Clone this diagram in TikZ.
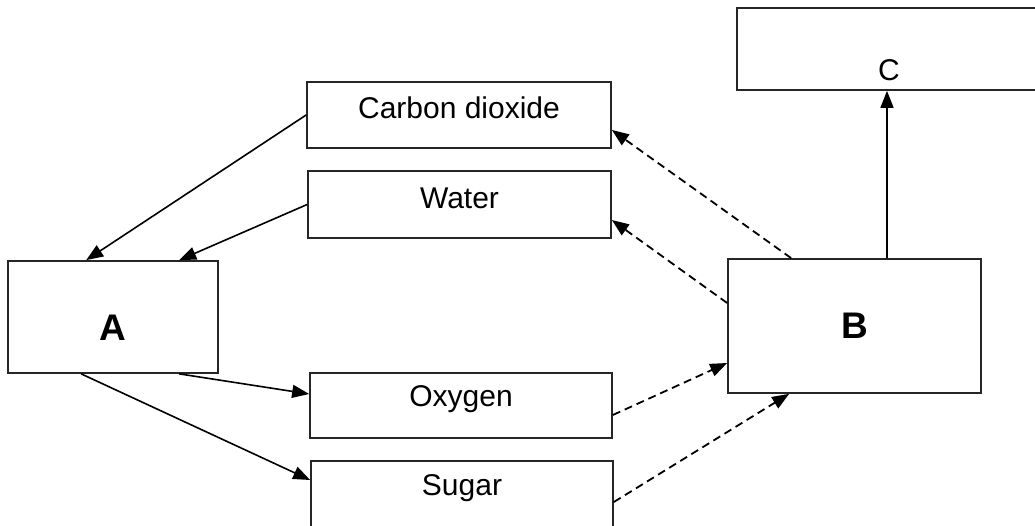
\documentclass[tikz,border=0pt]{standalone}
\usepackage{fontspec}
\setmainfont{Liberation Sans}
\usetikzlibrary{arrows.meta}
\begin{document}
\begin{tikzpicture}[x=1pt,y=-1pt,
  box/.style={draw=black!85, line width=1.7pt, rectangle, inner sep=0pt, fill=white},
  lbl/.style={font=\fontsize{30}{34}\selectfont},
  big/.style={font=\fontsize{37}{40}\selectfont\bfseries},
  conn/.style={line width=1.6pt, -{Triangle[length=17pt,width=13pt]}},
  dconn/.style={line width=1.8pt, dash pattern=on 8pt off 5pt, -{Triangle[length=17pt,width=13pt]}}]
\clip (0,0) rectangle (1035,526);
\useasboundingbox (0,0) rectangle (1035,526);
\fill[white] (0,0) rectangle (1035,526);

\node[box, minimum width=210pt, minimum height=112pt,
  label={[big, yshift=-11pt]center:A}] (a) at (113,317) {};
\node[box, minimum width=304pt, minimum height=66pt,
  label={[lbl, yshift=7pt]center:Carbon dioxide}] (co2) at (459,115) {};
\node[box, minimum width=303pt, minimum height=67pt,
  label={[lbl, yshift=6pt]center:Water}] (water) at (459.5,204.5) {};
\node[box, minimum width=302pt, minimum height=65pt,
  label={[lbl, yshift=6pt]center:Oxygen}] (oxy) at (461,405.5) {};
\node[box, minimum width=302pt, minimum height=66pt,
  label={[lbl, yshift=6pt]center:Sugar}] (sugar) at (462,494) {};
\node[box, minimum width=253pt, minimum height=134pt,
  label={[big]center:B}] (b) at (854.5,326) {};
\node[box, minimum width=308pt, minimum height=82pt,
  label={[lbl, yshift=-21pt, xshift=-2pt]center:C}] (c) at (891,49) {};

\draw[conn] (co2.west) -- ([xshift=79pt]a.north west);
\draw[conn] (water.west) -- ([xshift=172pt]a.north west);
\draw[conn] ([xshift=172pt]a.south west) -- ([yshift=11.5pt]oxy.west);
\draw[conn] ([xshift=74pt]a.south west) -- ([yshift=14pt]sugar.west);
\draw[conn] ([xshift=32.5pt]b.north) -- ([xshift=32.5pt]b.north |- c.south);

\draw[dconn] ([xshift=64pt]b.north west) -- ([yshift=-15pt]co2.east);
\draw[dconn] ([yshift=23pt]b.west) -- ([yshift=-15.5pt]water.east);
\draw[dconn] ([yshift=-9.5pt]oxy.east) -- ([yshift=-37pt]b.west);
\draw[dconn] ([yshift=-8pt]sugar.east) -- ([xshift=62pt]b.south west);
\end{tikzpicture}
\end{document}
